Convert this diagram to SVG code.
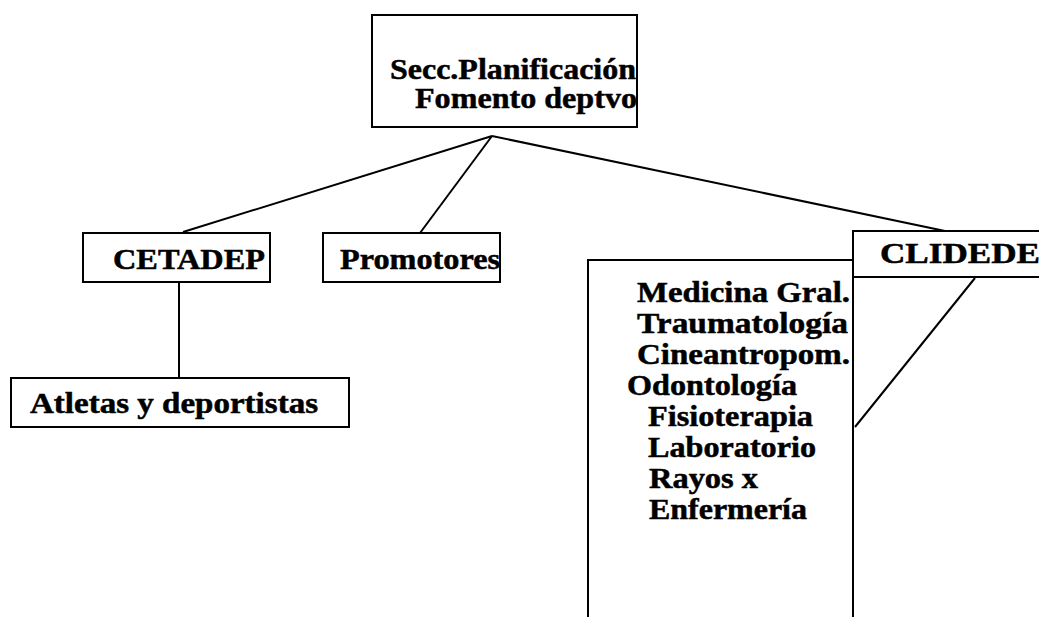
<svg xmlns="http://www.w3.org/2000/svg" width="1039" height="617" viewBox="0 0 1039 617">
<style>
.box{fill:none;stroke:#000;stroke-width:2}
.ln{fill:none;stroke:#000;stroke-width:2}
text{font-family:"Liberation Serif","Times New Roman",serif;font-weight:bold;font-size:29px;fill:#000;stroke:#000;stroke-width:0.5}
</style>
<rect width="1039" height="617" fill="#fff"/>
<g id="connectors">
<path class="ln" d="M492,136 L183,232"/>
<path class="ln" d="M492,136 L420,233"/>
<path class="ln" d="M492,136 L945,231"/>
<path class="ln" d="M179,282 L179,378"/>
<path class="ln" d="M975,278 L855,427"/>
</g>
<g id="node-seccion">
<rect class="box" x="372" y="15" width="265" height="112"/>
<text x="390" y="79" textLength="246" lengthAdjust="spacingAndGlyphs">Secc.Planificación</text>
<text x="415" y="108" textLength="222" lengthAdjust="spacingAndGlyphs">Fomento deptvo</text>
</g>
<g id="node-cetadep">
<rect class="box" x="83" y="233" width="187" height="49"/>
<text x="113" y="269" textLength="152" lengthAdjust="spacingAndGlyphs">CETADEP</text>
</g>
<g id="node-promotores">
<rect class="box" x="323" y="233" width="177" height="49"/>
<text x="340" y="269" textLength="160" lengthAdjust="spacingAndGlyphs">Promotores</text>
</g>
<g id="node-atletas">
<rect class="box" x="11" y="378" width="338" height="49"/>
<text x="30" y="413" textLength="288" lengthAdjust="spacingAndGlyphs">Atletas y deportistas</text>
</g>
<g id="node-clidede">
<path class="box" d="M1040,231 L853,231 L853,617 M853,277 L1040,277"/>
<text x="880" y="263" textLength="160" lengthAdjust="spacingAndGlyphs">CLIDEDE</text>
</g>
<g id="node-servicios">
<path class="box" d="M588,617 L588,260 L853,260"/>
<text x="637" y="302" textLength="213" lengthAdjust="spacingAndGlyphs">Medicina Gral.</text>
<text x="637" y="333" textLength="211" lengthAdjust="spacingAndGlyphs">Traumatología</text>
<text x="637" y="364" textLength="213" lengthAdjust="spacingAndGlyphs">Cineantropom.</text>
<text x="627" y="395" textLength="170" lengthAdjust="spacingAndGlyphs">Odontología</text>
<text x="648" y="426" textLength="165" lengthAdjust="spacingAndGlyphs">Fisioterapia</text>
<text x="648" y="457" textLength="168" lengthAdjust="spacingAndGlyphs">Laboratorio</text>
<text x="649" y="488" textLength="109" lengthAdjust="spacingAndGlyphs">Rayos x</text>
<text x="649" y="519" textLength="158" lengthAdjust="spacingAndGlyphs">Enfermería</text>
</g>
</svg>
